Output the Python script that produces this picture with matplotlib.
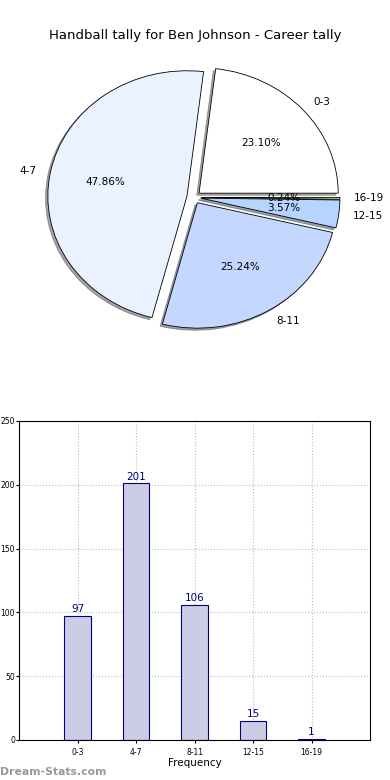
import matplotlib
matplotlib.use("Agg")
import matplotlib.pyplot as plt

# data
categories = ["0-3", "4-7", "8-11", "12-15", "16-19"]
counts = [97, 201, 106, 15, 1]
pie_colors = ["#ffffff", "#eaf1ff", "#c4d8ff", "#b5d4ff", "#d8e890"]

fig = plt.figure(figsize=(3.9, 7.8), dpi=100)
fig.suptitle("Handball tally for Ben Johnson - Career tally", y=0.963, fontsize=9.5)

# pie chart
ax1 = fig.add_axes([0.051, 0.546, 0.892, 0.402])
wedges, texts, autotexts = ax1.pie(counts, labels=categories, colors=pie_colors,
                                   explode=[0.05] * len(counts), autopct="%.2f%%",
                                   shadow={"ox": -0.012, "oy": -0.012, "shade": 0.7},
                                   startangle=0,
                                   wedgeprops={"edgecolor": "black", "linewidth": 0.6},
                                   textprops={"fontsize": 7.5})
ax1.set_aspect("auto")
ax1.set_xlim(-1.25, 1.25)
ax1.set_ylim(-1.25, 1.25)

# bar chart
ax2 = fig.add_axes([0.049, 0.0513, 0.9, 0.409])
x = list(range(len(categories)))
bars = ax2.bar(x, counts, width=0.45, color="#ccccE5",
               edgecolor="#000080", linewidth=0.8, zorder=2)
for xi, c in zip(x, counts):
    ax2.text(xi, c + 1.5, str(c), ha="center", va="bottom", color="#000080", fontsize=7.5)
ax2.set_xlim(-1, 5)
ax2.set_ylim(0, 250)
ax2.set_xticks(x)
ax2.set_xticklabels(categories, fontsize=5.5)
ax2.set_yticks([0, 50, 100, 150, 200, 250])
ax2.tick_params(axis="y", labelsize=5.5, length=2, pad=1)
ax2.tick_params(axis="x", length=2)
ax2.grid(True, linestyle=":", color="#bbbbbb", linewidth=0.8, zorder=0)
ax2.set_axisbelow(True)
ax2.set_xlabel("Frequency", fontsize=7.5, labelpad=1)

fig.text(0.0, 0.004, "Dream-Stats.com", color="#999999", fontsize=7.8,
         fontweight="bold", ha="left", va="bottom")

fig.savefig("out.png", dpi=100)
